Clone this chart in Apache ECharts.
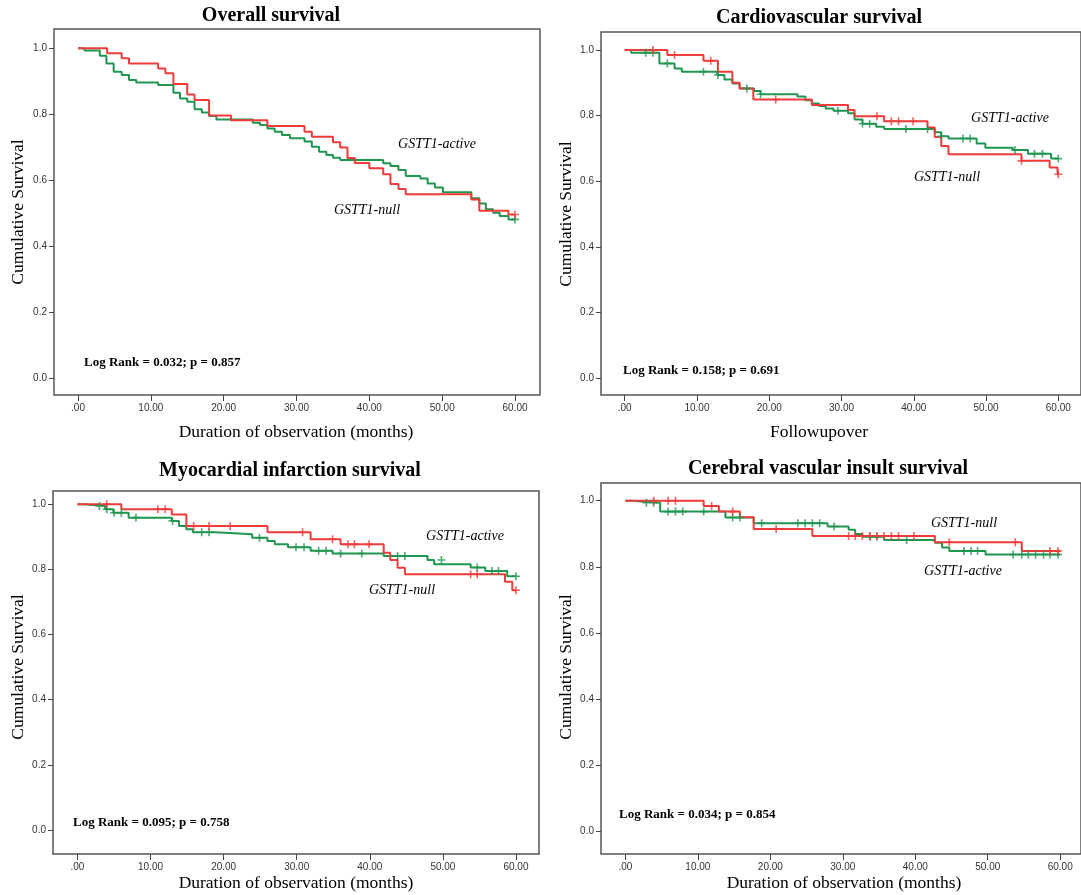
<!DOCTYPE html>
<html><head><meta charset="utf-8">
<script src="https://cdn.jsdelivr.net/npm/echarts@6/dist/echarts.min.js"></script>
<style>html,body{margin:0;padding:0;background:#fff}#c{width:1081px;height:895px}</style>
</head><body><div id="c"></div>
<script>
// ---------- data ----------
const xTicks = [0, 10, 20, 30, 40, 50, 60];
const yTicks = [0, 0.2, 0.4, 0.6, 0.8, 1.0];
const titles = ['Overall survival', 'Cardiovascular survival', 'Myocardial infarction survival', 'Cerebral vascular insult survival'];
const xNames = ['Duration of observation (months)', 'Followupover', 'Duration of observation (months)', 'Duration of observation (months)'];
const yName = 'Cumulative Survival';
const logRankTexts = ['Log Rank = 0.032; p = 0.857', 'Log Rank = 0.158; p = 0.691', 'Log Rank = 0.095; p = 0.758', 'Log Rank = 0.034; p = 0.854'];
const groupNames = ['GSTT1-null', 'GSTT1-active'];

// Panel 1: Overall survival
const overallNull = [[0,1],[4.0,0.985],[6.0,0.970],[7.0,0.954],[11.0,0.939],[12.0,0.924],[13.1,0.892],[15.0,0.860],[16.0,0.843],[18.0,0.796],[21.0,0.782],[26.0,0.764],[31.1,0.747],[32.1,0.732],[35.0,0.715],[36.0,0.699],[37.0,0.667],[38.0,0.652],[40.0,0.636],[41.9,0.618],[42.9,0.588],[44.0,0.573],[45.0,0.557],[54.0,0.541],[55.1,0.507],[59.1,0.496],[60,0.496]];
const overallActive = [[0,1],[0.9,0.993],[3.0,0.977],[3.9,0.954],[4.9,0.929],[6.0,0.919],[7.0,0.904],[8.0,0.896],[11.0,0.889],[13.1,0.865],[14.0,0.848],[15.0,0.838],[16.0,0.815],[17.0,0.805],[18.0,0.795],[19.0,0.784],[24.0,0.774],[25.0,0.767],[26.0,0.757],[27.0,0.747],[28.0,0.737],[29.1,0.727],[31.1,0.717],[32.1,0.701],[33.1,0.686],[34.1,0.676],[35.0,0.668],[36.0,0.661],[41.9,0.651],[42.9,0.643],[44.0,0.631],[45.0,0.613],[47.0,0.605],[48.0,0.590],[49.0,0.578],[50.1,0.563],[54.0,0.545],[55.1,0.529],[56.0,0.512],[57.0,0.501],[57.9,0.491],[59.1,0.481],[60,0.481]];
const overallNullCens = [[60,0.496]];
const overallActiveCens = [[60,0.481]];

// Panel 2: Cardiovascular survival
const cardioNull = [[0,1],[5.9,0.985],[10.9,0.967],[12.9,0.934],[14.9,0.900],[15.9,0.883],[17.8,0.849],[25.9,0.832],[30.9,0.817],[31.8,0.798],[35.9,0.783],[41.9,0.764],[42.9,0.735],[43.8,0.707],[44.8,0.682],[54.9,0.662],[58.8,0.642],[59.9,0.621],[60,0.621]];
const cardioActive = [[0,1],[0.9,0.992],[4.8,0.959],[6.9,0.944],[7.9,0.934],[12.8,0.924],[13.8,0.910],[14.9,0.898],[15.9,0.883],[17.9,0.875],[18.8,0.865],[23.9,0.858],[25.0,0.847],[25.9,0.837],[26.9,0.829],[27.8,0.822],[28.9,0.815],[30.9,0.807],[31.8,0.788],[32.9,0.775],[34.8,0.766],[35.9,0.759],[42.9,0.749],[43.8,0.737],[44.8,0.730],[48.7,0.715],[49.9,0.702],[53.7,0.695],[55.8,0.684],[59.0,0.669],[60,0.669]];
const cardioNullCens = [[3.9,1],[6.9,0.985],[11.9,0.967],[20.9,0.849],[34.9,0.798],[36.9,0.783],[37.9,0.783],[39.9,0.783],[54.9,0.662],[60,0.621]];
const cardioActiveCens = [[2.9,0.992],[3.9,0.992],[5.9,0.959],[10.9,0.934],[12.9,0.924],[16.9,0.883],[18.8,0.865],[29.5,0.815],[32.9,0.775],[33.9,0.775],[38.9,0.759],[41.9,0.759],[43.8,0.737],[46.8,0.730],[47.8,0.730],[54.0,0.695],[56.7,0.684],[57.8,0.684],[60,0.669]];

// Panel 3: Myocardial infarction survival
const miNull = [[0,1],[6.0,0.985],[12.9,0.969],[14.9,0.933],[26.0,0.914],[31.9,0.893],[36.0,0.877],[41.9,0.851],[42.8,0.829],[43.8,0.805],[44.8,0.785],[58.5,0.762],[59.5,0.736],[60,0.736]];
const miActive = [[0,1],[0.9,0.995],[3.8,0.985],[4.9,0.974],[7.0,0.959],[12.9,0.949],[13.9,0.933],[14.9,0.923],[15.8,0.914],[18.9,0.908],[23.9,0.897],[26.0,0.887],[27.0,0.877],[28.8,0.868],[31.9,0.857],[34.9,0.849],[41.9,0.841],[47.9,0.829],[48.8,0.816],[53.8,0.806],[55.8,0.795],[58.8,0.779],[60,0.779]];
const miNullCens = [[4.0,1],[11.0,0.985],[12.0,0.985],[15.9,0.933],[18.0,0.933],[20.9,0.933],[30.8,0.914],[34.9,0.893],[37.0,0.877],[37.9,0.877],[39.9,0.877],[53.8,0.785],[54.7,0.785],[60,0.736]];
const miActiveCens = [[3.0,0.995],[4.0,0.985],[5.0,0.974],[6.0,0.974],[8.0,0.959],[13.0,0.949],[17.0,0.914],[18.0,0.914],[24.9,0.897],[29.9,0.868],[31.0,0.868],[33.0,0.857],[34.0,0.857],[36.0,0.849],[38.9,0.849],[43.8,0.841],[44.8,0.841],[49.8,0.829],[54.7,0.806],[56.7,0.795],[57.6,0.795],[60,0.779]];

// Panel 4: Cerebral vascular insult survival
const cviNull = [[0,1],[10.8,0.984],[12.9,0.967],[15.8,0.950],[17.7,0.914],[25.8,0.893],[42.7,0.874],[54.7,0.848],[60,0.848]];
const cviActive = [[0,1],[0.9,0.994],[4.8,0.967],[13.8,0.949],[17.7,0.932],[27.9,0.922],[30.8,0.912],[31.7,0.899],[32.7,0.891],[35.7,0.881],[42.7,0.873],[43.7,0.858],[44.7,0.848],[49.7,0.837],[60,0.837]];
const cviNullCens = [[3.9,1],[5.9,1],[6.9,1],[11.9,0.984],[14.8,0.967],[20.8,0.914],[30.8,0.893],[31.7,0.893],[32.7,0.893],[33.7,0.893],[34.7,0.893],[35.7,0.893],[36.7,0.893],[37.7,0.893],[39.8,0.893],[44.7,0.874],[53.8,0.874],[58.6,0.848],[59.7,0.848]];
const cviActiveCens = [[2.9,0.994],[3.9,0.994],[5.9,0.967],[6.9,0.967],[7.9,0.967],[10.8,0.967],[14.8,0.949],[15.8,0.949],[18.8,0.932],[23.8,0.932],[24.8,0.932],[25.8,0.932],[26.8,0.932],[28.8,0.922],[33.8,0.891],[34.7,0.891],[38.8,0.881],[46.7,0.848],[47.7,0.848],[48.6,0.848],[53.5,0.837],[54.7,0.837],[55.6,0.837],[56.6,0.837],[57.7,0.837],[58.6,0.837],[59.7,0.837]];

// ---------- layout ----------
const RED = '#ee3b3b', GREEN = '#1f9650';
const SERIF = '"Liberation Serif", "Times New Roman", serif';
const SANS = '"Liberation Sans", Arial, sans-serif';
const panels = [
  {grid:{left:54, top:29, width:486, height:366}, x:[-3.295,63.43], y:[-0.0516,1.0585],
   nullS:overallNull, actS:overallActive, nullC:overallNullCens, actC:overallActiveCens,
   title:[271,16], xName:[296,432], yName:[18,212], lr:[84,363], nullL:[367,210], actL:[437,144]},
  {grid:{left:601, top:32, width:486, height:363}, x:[-3.28,63.14], y:[-0.0518,1.0549],
   nullS:cardioNull, actS:cardioActive, nullC:cardioNullCens, actC:cardioActiveCens,
   title:[819,18], xName:[819,432], yName:[566,214], lr:[623,371], nullL:[947,177], actL:[1010,118]},
  {grid:{left:53, top:491, width:486, height:363}, x:[-3.35,63.15], y:[-0.0737,1.0408],
   nullS:miNull, actS:miActive, nullC:miNullCens, actC:miActiveCens,
   title:[290,471], xName:[296,883], yName:[18,667], lr:[73,823], nullL:[402,590], actL:[465,536]},
  {grid:{left:601, top:483, width:486, height:371}, x:[-3.37,62.87], y:[-0.0696,1.0536],
   nullS:cviNull, actS:cviActive, nullC:cviNullCens, actC:cviActiveCens,
   title:[828,469], xName:[844,883], yName:[566,667], lr:[619,815], nullL:[964,523], actL:[963,571]}
];
const PLUS = 'path://M4,0H6V4H10V6H6V10H4V6H0V4H4Z';

const grids = [], xAxes = [], yAxes = [], series = [], graphics = [];
panels.forEach((p, i) => {
  grids.push(Object.assign({show:true, borderColor:'#555', borderWidth:1.5, backgroundColor:'#fff'}, p.grid));
  xAxes.push({type:'value', gridIndex:i, min:p.x[0], max:p.x[1], position:'bottom',
    axisLine:{show:false, onZero:false}, splitLine:{show:false},
    axisTick:{show:true, inside:false, length:6, customValues:xTicks, lineStyle:{color:'#444', width:1}},
    axisLabel:{show:true, customValues:xTicks, margin:8, fontFamily:SANS, fontSize:10, color:'#333',
      formatter:v => v === 0 ? '.00' : v.toFixed(2)}});
  yAxes.push({type:'value', gridIndex:i, min:p.y[0], max:p.y[1], position:'left',
    axisLine:{show:false, onZero:false}, splitLine:{show:false},
    axisTick:{show:true, inside:false, length:5, customValues:yTicks, lineStyle:{color:'#444', width:1}},
    axisLabel:{show:true, customValues:yTicks, margin:7, fontFamily:SANS, fontSize:10, color:'#333',
      formatter:v => v.toFixed(1)}});
  series.push({type:'line', step:'end', xAxisIndex:i, yAxisIndex:i, data:p.actS, showSymbol:false, symbol:'none',
    lineStyle:{color:GREEN, width:2}, z:2, animation:false, silent:true});
  series.push({type:'line', step:'end', xAxisIndex:i, yAxisIndex:i, data:p.nullS, showSymbol:false, symbol:'none',
    lineStyle:{color:RED, width:2}, z:3, animation:false, silent:true});
  series.push({type:'scatter', xAxisIndex:i, yAxisIndex:i, data:p.actC, symbol:PLUS, symbolSize:8,
    itemStyle:{color:GREEN}, z:4, animation:false, silent:true});
  series.push({type:'scatter', xAxisIndex:i, yAxisIndex:i, data:p.nullC, symbol:PLUS, symbolSize:8,
    itemStyle:{color:RED}, z:5, animation:false, silent:true});

  graphics.push({type:'text', x:p.title[0], y:p.title[1], z:10,
    style:{text:titles[i], font:'bold 20px ' + SERIF, fill:'#000', align:'center', verticalAlign:'middle'}});
  graphics.push({type:'text', x:p.xName[0], y:p.xName[1], z:10,
    style:{text:xNames[i], font:'17.5px ' + SERIF, fill:'#000', align:'center', verticalAlign:'middle'}});
  graphics.push({type:'text', x:p.yName[0], y:p.yName[1], rotation:Math.PI/2, z:10,
    style:{text:yName, font:'17.5px ' + SERIF, fill:'#000', align:'center', verticalAlign:'middle'}});
  graphics.push({type:'text', x:p.lr[0], y:p.lr[1], z:10,
    style:{text:logRankTexts[i], font:'bold 13px ' + SERIF, fill:'#000', align:'left', verticalAlign:'middle'}});
  graphics.push({type:'text', x:p.nullL[0], y:p.nullL[1], z:10,
    style:{text:groupNames[0], font:'italic 14px ' + SERIF, fill:'#000', align:'center', verticalAlign:'middle'}});
  graphics.push({type:'text', x:p.actL[0], y:p.actL[1], z:10,
    style:{text:groupNames[1], font:'italic 14px ' + SERIF, fill:'#000', align:'center', verticalAlign:'middle'}});
});

const chart = echarts.init(document.getElementById('c'), null, {renderer:'canvas'});
chart.setOption({backgroundColor:'#fff', animation:false, grid:grids, xAxis:xAxes, yAxis:yAxes, series:series, graphic:graphics});
</script></body></html>
